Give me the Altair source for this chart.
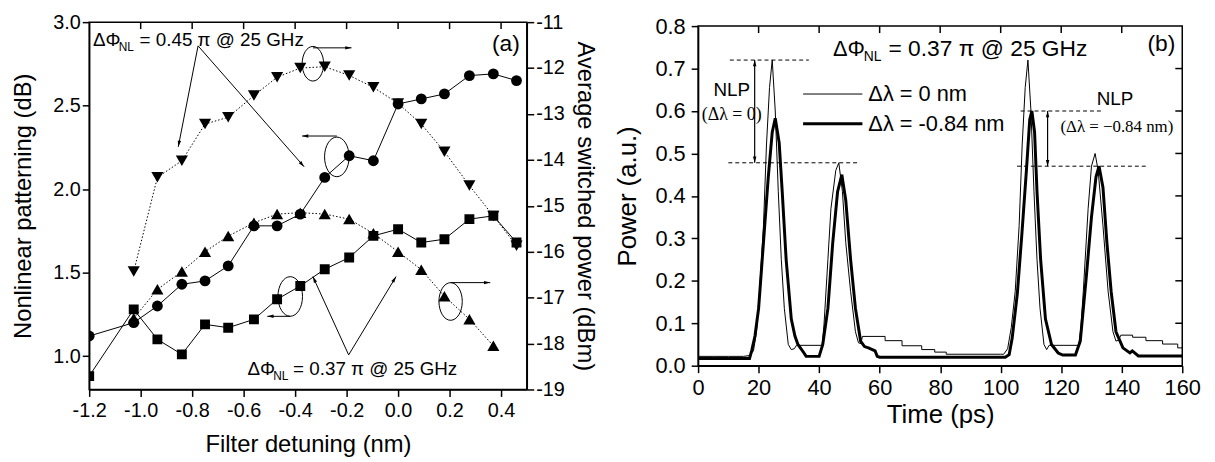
import math
import altair as alt
import pandas as pd

SANS = "Liberation Sans"
SERIF = "Liberation Serif"
MINUS = "replace(datum.label, '\u2212', '-')"

# ---------------- Panel (a) data ----------------
detuning = [-1.2, -1.027, -0.935, -0.84, -0.75, -0.66, -0.56, -0.47, -0.38,
            -0.285, -0.19, -0.096, 0.0, 0.09, 0.18, 0.277, 0.37, 0.46]
nlp_circles = [1.12, 1.20, 1.30, 1.43, 1.45, 1.54, 1.78, 1.78, 1.85,
               2.07, 2.20, 2.17, 2.51, 2.54, 2.57, 2.68, 2.69, 2.65]
nlp_squares = [0.88, 1.28, 1.10, 1.01, 1.19, 1.17, 1.22, 1.34, 1.42,
               1.52, 1.59, 1.72, 1.76, 1.68, 1.70, 1.82, 1.84, 1.68]
det_inv = [-1.027, -0.935, -0.84, -0.75, -0.66, -0.56, -0.47, -0.38,
           -0.285, -0.19, -0.096, 0.0, 0.09, 0.18, 0.277, 0.37, 0.46]
pow_inv = [-16.43, -14.38, -14.02, -13.22, -13.07, -12.6, -12.2, -12.0,
           -11.97, -12.16, -12.42, -12.77, -13.22, -13.82, -14.56, -15.22, -15.87]
det_tri = [-1.027, -0.935, -0.84, -0.75, -0.66, -0.56, -0.47, -0.38,
           -0.285, -0.19, -0.096, 0.0, 0.09, 0.18, 0.277, 0.37]
pow_tri = [-17.45, -16.82, -16.43, -16.0, -15.66, -15.37, -15.18, -15.15,
           -15.18, -15.29, -15.6, -16.0, -16.39, -16.97, -17.47, -18.05]

xa_ticks = [-1.2, -1.0, -0.8, -0.6, -0.4, -0.2, 0.0, 0.2, 0.4]
yl_ticks = [1.0, 1.5, 2.0, 2.5, 3.0]
yr_ticks = [-19, -18, -17, -16, -15, -14, -13, -12, -11]

# ---------------- Panel (b) data ----------------
thin_t = [0, 5, 10, 15, 17, 18.3, 19.3, 20.3, 21.6, 22.6, 23.6, 24.5, 25.5, 26.5,
          27.5, 28.5, 29.8, 30.8, 31.8, 32.5, 41.0, 41.6, 42.9, 43.9, 45.5, 46.5,
          47.7, 48.8, 50.4, 52.0, 53.0, 53.8, 54.3, 61.8, 61.8, 67.4, 67.4, 73.9,
          73.9, 78.2, 78.2, 82, 82, 100, 101, 102.3, 103.5, 104.8, 106.1, 107.1,
          108.1, 109, 110, 111, 112, 113, 114.3, 115.2, 116, 125.8, 126.5, 127.3,
          128.9, 130, 131.2, 132.2, 133.8, 135.5, 137.1, 138.1, 139, 139.7, 143.6,
          143.6, 148, 148, 153.5, 153.5, 158.5, 158.5, 160]
thin_p = [0.022, 0.022, 0.022, 0.022, 0.024, 0.035, 0.08, 0.175, 0.33, 0.52, 0.655,
          0.72, 0.60, 0.41, 0.25, 0.135, 0.05, 0.038, 0.04, 0.048, 0.048, 0.096,
          0.25, 0.37, 0.46, 0.478, 0.41, 0.29, 0.175, 0.08, 0.054, 0.052, 0.069,
          0.069, 0.059, 0.059, 0.047, 0.047, 0.038, 0.038, 0.032, 0.032, 0.027,
          0.027, 0.027, 0.04, 0.09, 0.175, 0.33, 0.52, 0.655, 0.72, 0.60, 0.41,
          0.25, 0.135, 0.05, 0.038, 0.048, 0.048, 0.09, 0.175, 0.37, 0.47, 0.50,
          0.46, 0.33, 0.175, 0.08, 0.058, 0.06, 0.072, 0.072, 0.067, 0.067, 0.059,
          0.059, 0.051, 0.051, 0.042, 0.042]
thick_t = [0, 17, 17.7, 18.8, 20, 21.6, 23.2, 24.5, 25.5, 26.8, 27.8, 29.1, 30.8,
           32, 33, 35, 35.7, 40, 41.2, 42.9, 44.5, 46.1, 47.5, 48.8, 50.4, 52, 53.7,
           55, 56.3, 58.5, 59.2, 60, 101.5, 102.8, 103.8, 105.5, 107, 108.6, 109.6,
           110.3, 111.2, 112, 113.2, 114.8, 116.8, 119, 120.5, 124.7, 126.3, 128.3,
           130, 131.5, 132.5, 133.8, 135.1, 136.5, 138.1, 140.4, 142.7, 143.5,
           145.5, 160]
thick_p = [0.017, 0.017, 0.035, 0.07, 0.135, 0.29, 0.445, 0.55, 0.583, 0.525, 0.41,
           0.25, 0.11, 0.07, 0.05, 0.03, 0.022, 0.022, 0.05, 0.135, 0.29, 0.41, 0.45,
           0.39, 0.25, 0.135, 0.058, 0.045, 0.042, 0.035, 0.022, 0.02, 0.02, 0.026,
           0.065, 0.17, 0.31, 0.47, 0.58, 0.60, 0.55, 0.41, 0.25, 0.11, 0.05, 0.03,
           0.025, 0.025, 0.058, 0.21, 0.35, 0.445, 0.47, 0.42, 0.29, 0.175, 0.08,
           0.042, 0.03, 0.035, 0.023, 0.023]

xb_ticks = [0, 20, 40, 60, 80, 100, 120, 140, 160]
yb_ticks = [0.0, 0.1, 0.2, 0.3, 0.4, 0.5, 0.6, 0.7, 0.8]

# ---------------- geometry ----------------
W_A, H_A = 442, 371
W_B, H_B = 489, 343
XA_DOM, YL_DOM, YR_DOM = [-1.2, 0.5], [0.8, 3.0], [-19, -11]
XB_DOM, YB_DOM = [0, 160], [0, 0.8]

HEAD = "M0,0 L0.55,2 L-0.55,2 Z"
ELLIPSE = "M-0.62,0 A0.62,1 0 1,0 0.62,0 A0.62,1 0 1,0 -0.62,0 Z"


def angle(x1, y1, x2, y2, sx, sy):
    dxp = (x2 - x1) * sx
    dyp = -(y2 - y1) * sy
    return (math.degrees(math.atan2(dxp, -dyp)) + 360) % 360


axis_common = dict(tickSize=7, tickWidth=1.5, domainWidth=1.5, tickColor="black",
                   domainColor="black", labelColor="black", titleColor="black",
                   labelFont=SANS, titleFont=SANS, titleFontWeight="normal", grid=False,
                   labelFlush=False, labelOverlap=False)

xa_axis = alt.Axis(values=xa_ticks, format=".1f", labelExpr=MINUS, title="Filter detuning (nm)",
                   labelFontSize=20, titleFontSize=24, labelPadding=4, titlePadding=13, **axis_common)
yl_axis = alt.Axis(values=yl_ticks, format=".1f", title="Nonlinear patterning (dB)",
                   labelFontSize=20, titleFontSize=24, labelPadding=2, titlePadding=17, **axis_common)
yr_axis = alt.Axis(orient="right", values=yr_ticks, format="d", labelExpr=MINUS,
                   title="Average switched power (dBm)", labelFontSize=20, titleFontSize=24,
                   labelPadding=2, titlePadding=8, **axis_common)

xa_sc = alt.Scale(domain=XA_DOM, nice=False, zero=False)
yl_sc = alt.Scale(domain=YL_DOM, nice=False, zero=False)
yr_sc = alt.Scale(domain=YR_DOM, nice=False, zero=False)


def XA(f="x"):
    return alt.X(f"{f}:Q", scale=xa_sc, axis=xa_axis)


def YL(f="y"):
    return alt.Y(f"{f}:Q", scale=yl_sc, axis=yl_axis)


def YR(f="y"):
    return alt.Y(f"{f}:Q", scale=yr_sc, axis=yr_axis)


def series(xs, ys, shape, size, dash, Yf):
    df = pd.DataFrame({"x": xs, "y": ys, "i": list(range(len(xs)))})
    line_kw = dict(color="black", strokeWidth=1, clip=True)
    if dash:
        line_kw["strokeDash"] = dash
    ln = alt.Chart(df).mark_line(**line_kw).encode(x=XA(), y=Yf(), order="i:Q")
    pt = alt.Chart(df).mark_point(shape=shape, filled=True, size=size, color="black",
                                  opacity=1, clip=True).encode(x=XA(), y=Yf())
    return [ln, pt]


def text_a(x, y, s, size, dx=0, dy=0, font=SANS, align="left", baseline="alphabetic"):
    df = pd.DataFrame({"x": [x], "y": [y], "t": [s]})
    return alt.Chart(df).mark_text(font=font, fontSize=size, dx=dx, dy=dy, align=align,
                                   baseline=baseline, color="black").encode(
        x=XA(), y=YL(), text="t:N")


SXA = W_A / (XA_DOM[1] - XA_DOM[0])
SYA = H_A / (YL_DOM[1] - YL_DOM[0])

# arrows for panel (a) in (detuning, left-axis) units: start -> head
arrows_a = [(-0.777, 2.858, -0.854, 2.253), (-0.777, 2.858, -0.365, 2.134),
            (-0.331, 2.846, -0.181, 2.846), (-0.238, 2.318, -0.373, 2.318),
            (-0.419, 1.238, -0.508, 1.238), (0.204, 1.440, 0.358, 1.440),
            (-0.192, 1.007, -0.331, 1.476), (-0.192, 1.007, -0.008, 1.476)]
arr_df = pd.DataFrame(arrows_a, columns=["x", "y", "x2", "y2"])
arr_df["ang"] = [angle(a, b, c, d, SXA, SYA) for a, b, c, d in arrows_a]

ell_df = pd.DataFrame({"x": [-0.331, -0.238, -0.419, 0.204],
                       "y": [2.751, 2.193, 1.357, 1.327],
                       "s": [1225, 1600, 1600, 1444]})
topticks_a = pd.DataFrame({"x": xa_ticks[1:]})

left_layers = []
left_layers += series(detuning, nlp_squares, "square", 100, None, YL)
left_layers += series(detuning, nlp_circles, "circle", 120, None, YL)
left_layers.append(alt.Chart(topticks_a).mark_rule(color="black", strokeWidth=1.5).encode(
    x=XA(), y=alt.value(0), y2=alt.value(7)))
left_layers.append(alt.Chart(arr_df).mark_rule(color="black", strokeWidth=1).encode(
    x=XA(), y=YL(), x2="x2:Q", y2="y2:Q"))
left_layers.append(alt.Chart(arr_df).mark_point(shape=HEAD, filled=True, size=40, color="black",
                                                opacity=1).encode(
    x=XA("x2"), y=YL("y2"), angle=alt.Angle("ang:Q", scale=None)))
left_layers.append(alt.Chart(ell_df).mark_point(shape=ELLIPSE, filled=False, color="black",
                                                strokeWidth=1, opacity=1).encode(
    x=XA(), y=YL(), size=alt.Size("s:Q", scale=None)))
# texts
left_layers.append(text_a(-1.185, 2.858, "ΔΦ", 19))
left_layers.append(text_a(-1.185, 2.858, "NL", 12, dx=26, dy=5))
left_layers.append(text_a(-1.185, 2.858, "= 0.45 π @ 25 GHz", 19, dx=47))
left_layers.append(text_a(-0.585, 0.889, "ΔΦ", 19))
left_layers.append(text_a(-0.585, 0.889, "NL", 12, dx=26, dy=5))
left_layers.append(text_a(-0.585, 0.889, "= 0.37 π @ 25 GHz", 19, dx=46))
left_layers.append(text_a(0.473, 2.87, "(a)", 23, align="right", baseline="middle"))

right_layers = []
right_layers += series(det_tri, pow_tri, "triangle-up", 150, [1.5, 2], YR)
right_layers += series(det_inv, pow_inv, "triangle-down", 150, [1.5, 2], YR)

panel_a = alt.layer(alt.layer(*right_layers), alt.layer(*left_layers)).resolve_scale(
    y="independent").properties(width=W_A, height=H_A)

# ---------------- Panel (b) ----------------
xb_axis = alt.Axis(values=xb_ticks, format="d", title="Time (ps)", labelFontSize=22,
                   titleFontSize=26, labelPadding=5, titlePadding=3, **axis_common)
yb_axis = alt.Axis(values=yb_ticks, format=".1f", title="Power (a.u.)", labelFontSize=22,
                   titleFontSize=26, labelPadding=6, titlePadding=15, **axis_common)
xb_sc = alt.Scale(domain=XB_DOM, nice=False, zero=False)
yb_sc = alt.Scale(domain=YB_DOM, nice=False, zero=False)


def XB(f="x"):
    return alt.X(f"{f}:Q", scale=xb_sc, axis=xb_axis)


def YB(f="y"):
    return alt.Y(f"{f}:Q", scale=yb_sc, axis=yb_axis)


def text_b(x, y, s, size, dx=0, dy=0, font=SANS, align="left", baseline="alphabetic"):
    df = pd.DataFrame({"x": [x], "y": [y], "t": [s]})
    return alt.Chart(df).mark_text(font=font, fontSize=size, dx=dx, dy=dy, align=align,
                                   baseline=baseline, color="black").encode(
        x=XB(), y=YB(), text="t:N")


thin_df = pd.DataFrame({"x": thin_t, "y": thin_p, "i": list(range(len(thin_t)))})
thick_df = pd.DataFrame({"x": thick_t, "y": thick_p, "i": list(range(len(thick_t)))})

dash_df = pd.DataFrame({"x": [10.5, 10, 106.6, 105.4], "x2": [36.6, 53, 133.2, 148.6],
                        "y": [0.72, 0.478, 0.60, 0.47]})
darr_df = pd.DataFrame({"x": [18.7, 115.5], "y": [0.478, 0.47], "y2": [0.72, 0.60]})
heads_b = pd.DataFrame({"x": [18.7, 18.7, 115.5, 115.5], "y": [0.72, 0.478, 0.60, 0.47],
                        "ang": [0, 180, 0, 180]})
leg_df = pd.DataFrame({"x": [34.7, 34.7], "x2": [54.3, 54.3], "y": [0.64, 0.57],
                       "w": [1, 3], "lab": ["Δλ = 0 nm", "Δλ = -0.84 nm"]})
topticks_b = pd.DataFrame({"x": xb_ticks[1:-1]})
rticks_b = pd.DataFrame({"y": yb_ticks[1:-1]})

b_layers = [
    alt.Chart(thin_df).mark_line(color="black", strokeWidth=1).encode(x=XB(), y=YB(), order="i:Q"),
    alt.Chart(thick_df).mark_line(color="black", strokeWidth=3).encode(x=XB(), y=YB(), order="i:Q"),
    alt.Chart(dash_df).mark_rule(color="black", strokeWidth=1, strokeDash=[4, 3]).encode(
        x=XB(), x2="x2:Q", y=YB()),
    alt.Chart(darr_df).mark_rule(color="black", strokeWidth=1.2).encode(x=XB(), y=YB(), y2="y2:Q"),
    alt.Chart(heads_b).mark_point(shape=HEAD, filled=True, size=40, color="black", opacity=1).encode(
        x=XB(), y=YB(), angle=alt.Angle("ang:Q", scale=None)),
    alt.Chart(leg_df).mark_rule(color="black").encode(
        x=XB(), x2="x2:Q", y=YB(), strokeWidth=alt.StrokeWidth("w:Q", scale=None)),
    alt.Chart(leg_df).mark_text(font=SANS, fontSize=22, align="left", baseline="middle",
                                dx=6, color="black").encode(x=XB("x2"), y=YB(), text="lab:N"),
    alt.Chart(topticks_b).mark_rule(color="black", strokeWidth=1.5).encode(
        x=XB(), y=alt.value(0), y2=alt.value(7)),
    alt.Chart(rticks_b).mark_rule(color="black", strokeWidth=1.5).encode(
        y=YB(), x=alt.value(W_B - 7), x2=alt.value(W_B)),
    text_b(44.6, 0.73, "ΔΦ", 22),
    text_b(44.6, 0.73, "NL", 14, dx=31, dy=5),
    text_b(44.6, 0.73, "= 0.37 π @ 25 GHz", 23, dx=56),
    text_b(157.7, 0.757, "(b)", 23, align="right", baseline="middle"),
    text_b(11.1, 0.650, "NLP", 19, align="center", baseline="middle"),
    text_b(11.1, 0.590, "(Δλ = 0)", 18, font=SERIF, align="center", baseline="middle"),
    text_b(137.8, 0.629, "NLP", 19, align="center", baseline="middle"),
    text_b(138.4, 0.562, "(Δλ = −0.84 nm)", 17, font=SERIF, align="center", baseline="middle"),
]
panel_b = alt.layer(*b_layers).properties(width=W_B, height=H_B)

# small blank strip that lowers panel (b) by a few pixels relative to panel (a)
spacer = alt.Chart(topticks_b.head(1)).mark_rule(strokeOpacity=0).encode(
    x=alt.value(0), x2=alt.value(0), y=alt.value(0), y2=alt.value(0)
).properties(width=W_B, height=1, view=alt.ViewBackground(stroke="transparent"))

panel_b_col = alt.vconcat(spacer, panel_b, spacing=3, bounds="flush")

chart = alt.hconcat(panel_a, panel_b_col, spacing=173, bounds="flush").properties(
    padding={"left": 3, "top": 1, "right": 5, "bottom": 5}
).configure(font=SANS).configure_view(stroke="black", strokeWidth=1.5)

chart.save("out.html", embed_options={"renderer": "svg", "actions": False})
